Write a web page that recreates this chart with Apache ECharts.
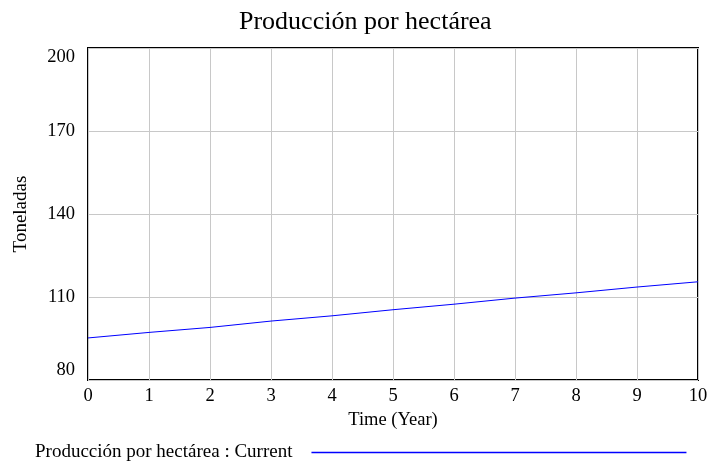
<!DOCTYPE html>
<html>
<head>
<meta charset="utf-8">
<script src="https://cdn.jsdelivr.net/npm/echarts@6/dist/echarts.min.js"></script>
<style>
  html, body { margin: 0; padding: 0; background: #fff; }
  #chart { width: 707px; height: 462px; }
</style>
</head>
<body>
<div id="chart"></div>
<script>
  // time in years
  const years = [0, 1, 2, 3, 4, 5, 6, 7, 8, 9, 10];
  // Producción por hectárea : Current (toneladas)
  const produccion = [95.2, 97.2, 99.0, 101.3, 103.2, 105.4, 107.4, 109.6, 111.5, 113.6, 115.5];
  const seriesName = 'Producción por hectárea : Current';

  const fontFamily = '"Liberation Serif", "DejaVu Serif", serif';
  const chart = echarts.init(document.getElementById('chart'));

  chart.setOption({
    animation: false,
    backgroundColor: '#fff',
    textStyle: { fontFamily: fontFamily },
    title: {
      text: 'Producción por hectárea',
      left: 234,
      top: 4,
      textStyle: { fontFamily: fontFamily, fontSize: 26, fontWeight: 'normal', color: '#000' }
    },
    grid: {
      left: 88,
      right: 9,
      top: 48,
      bottom: 82,
      outerBoundsMode: 'none',
      show: true,
      borderColor: '#000',
      borderWidth: 2,
      backgroundColor: 'transparent'
    },
    legend: {
      left: 30,
      top: 438,
      align: 'right',
      icon: 'rect',
      itemWidth: 375,
      itemHeight: 1.5,
      itemGap: 0,
      data: [{ name: seriesName, itemStyle: { color: '#0000ff' } }],
      textStyle: { fontFamily: fontFamily, fontSize: 19, color: '#000', padding: [0, 14, 0, 0] }
    },
    xAxis: {
      type: 'value',
      min: 0,
      max: 10,
      interval: 1,
      name: 'Time (Year)',
      nameLocation: 'middle',
      nameGap: 30,
      nameTextStyle: { fontFamily: fontFamily, fontSize: 18.5, color: '#000' },
      axisLine: { show: false },
      axisTick: { show: false },
      axisLabel: { fontFamily: fontFamily, fontSize: 18.5, color: '#000', margin: 7 },
      splitLine: { show: true, lineStyle: { color: '#c8c8c8', width: 1 } }
    },
    yAxis: {
      type: 'value',
      min: 80,
      max: 200,
      interval: 30,
      name: 'Toneladas',
      nameLocation: 'middle',
      nameGap: 57,
      nameTextStyle: { fontFamily: fontFamily, fontSize: 19, color: '#000' },
      axisLine: { show: false },
      axisTick: { show: false },
      axisLabel: {
        fontFamily: fontFamily,
        fontSize: 18.5,
        color: '#000',
        margin: 13,
        verticalAlignMinLabel: 'bottom',
        verticalAlignMaxLabel: 'top'
      },
      splitLine: { show: true, lineStyle: { color: '#c8c8c8', width: 1 } }
    },
    series: [{
      name: seriesName,
      type: 'line',
      data: years.map((t, i) => [t, produccion[i]]),
      showSymbol: false,
      lineStyle: { color: '#0000ff', width: 1 },
      itemStyle: { color: '#0000ff' }
    }]
  });
</script>
</body>
</html>
